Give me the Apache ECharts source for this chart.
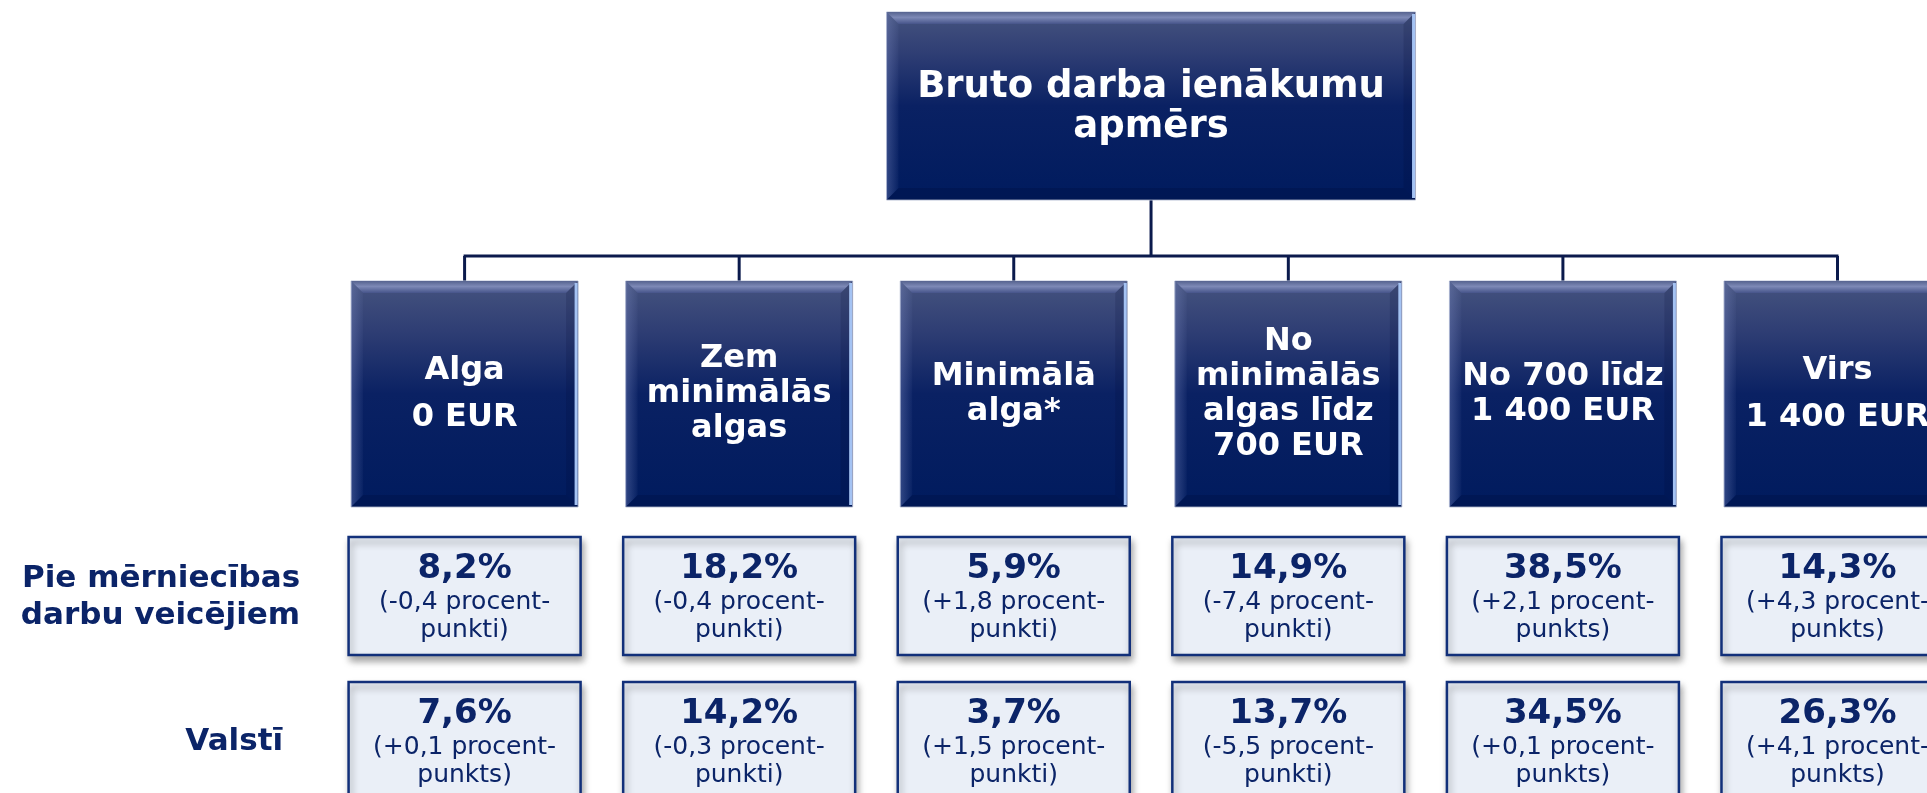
<!DOCTYPE html>
<html>
<head>
<meta charset="utf-8">
<title>Bruto darba ienākumu apmērs</title>
<script src="https://cdn.jsdelivr.net/npm/echarts@6/dist/echarts.min.js"></script>
<style>
  html, body { margin: 0; padding: 0; background: #fff; }
  #chart { width: 1927px; height: 793px; }
</style>
</head>
<body>
<div id="chart"></div>
<script>
// data
const title = 'Bruto darba ienākumu\napmērs'
const categories = [
  'Alga\n0 EUR',
  'Zem\nminimālās\nalgas',
  'Minimālā\nalga*',
  'No\nminimālās\nalgas līdz\n700 EUR',
  'No 700 līdz\n1 400 EUR',
  'Virs\n1 400 EUR'
]
const rowLabels = ['Pie mērniecības\ndarbu veicējiem', 'Valstī']
const surveyShare = [8.2, 18.2, 5.9, 14.9, 38.5, 14.3]
const surveyChange = [-0.4, -0.4, 1.8, -7.4, 2.1, 4.3]
const surveyUnit = ['punkti', 'punkti', 'punkti', 'punkti', 'punkts', 'punkts']
const countryShare = [7.6, 14.2, 3.7, 13.7, 34.5, 26.3]
const countryChange = [0.1, -0.3, 1.5, -5.5, 0.1, 4.1]
const countryUnit = ['punkts', 'punkti', 'punkti', 'punkti', 'punkts', 'punkts']

const NAVY = '#0b2468'
const FONT = '"DejaVu Sans", Verdana, sans-serif'
// vertical layout (y axis runs in pixels, top to bottom)
const TOP_BOX = [12, 200]
const BUS_Y = 256
const CAT_BOX = [281, 507]
const ROW_TOP = [537, 682]
const VAL_H = 118
const CAT_W = 227
const VAL_W = 232
// column index range visible on the page (one column = one category)
const X_MIN = -1.692
const X_MAX = 5.326

const fmt = v => v.toFixed(1).replace('.', ',')
const fmtChange = v => (v >= 0 ? '+' : '-') + fmt(Math.abs(v))

function darkBox(x, y, w, h) {
  const b = 12
  return [
    {
      type: 'rect',
      shape: { x: x, y: y, width: w, height: h },
      style: {
        fill: new echarts.graphic.LinearGradient(0, 0, 0, 1, [
          { offset: 0, color: '#46547f' },
          { offset: 0.22, color: '#2f3e74' },
          { offset: 0.5, color: '#0a2163' },
          { offset: 1, color: '#001b5e' }
        ]),
        stroke: '#b9c1d6',
        lineWidth: 1
      }
    },
    {
      type: 'polygon',
      shape: { points: [[x, y], [x + w, y], [x + w - b, y + b], [x + b, y + b]] },
      style: {
        fill: new echarts.graphic.LinearGradient(0, 0, 0, 1, [
          { offset: 0, color: '#56638f' },
          { offset: 0.45, color: '#7d89b6' },
          { offset: 1, color: '#46548a' }
        ])
      }
    },
    {
      type: 'polygon',
      shape: { points: [[x, y], [x + b, y + b], [x + b, y + h - b], [x, y + h]] },
      style: {
        fill: new echarts.graphic.LinearGradient(0, 0, 1, 0, [
          { offset: 0, color: 'rgba(120,135,190,0.4)' },
          { offset: 1, color: 'rgba(120,135,190,0.05)' }
        ])
      }
    },
    {
      type: 'polygon',
      shape: { points: [[x, y + h], [x + w, y + h], [x + w - b, y + h - b], [x + b, y + h - b]] },
      style: { fill: 'rgba(0,10,50,0.22)' }
    },
    {
      type: 'polygon',
      shape: { points: [[x + w, y], [x + w, y + h], [x + w - b, y + h - b], [x + w - b, y + b]] },
      style: { fill: 'rgba(0,10,50,0.15)' }
    },
    {
      type: 'line',
      shape: { x1: x + w - 2, y1: y + 2, x2: x + w - 2, y2: y + h - 2 },
      style: { stroke: '#a5c3f3', lineWidth: 3 }
    }
  ]
}

const chart = echarts.init(document.getElementById('chart'))

const valueData = []
surveyShare.forEach((v, i) => valueData.push([i, 0]))
countryShare.forEach((v, i) => valueData.push([i, 1]))
const valueText = [
  surveyShare.map((v, i) => [fmt(v) + '%', '(' + fmtChange(surveyChange[i]) + ' procent-', surveyUnit[i] + ')']),
  countryShare.map((v, i) => [fmt(v) + '%', '(' + fmtChange(countryChange[i]) + ' procent-', countryUnit[i] + ')'])
]

chart.setOption({
  animation: false,
  grid: { left: 0, right: 0, top: 0, bottom: 0 },
  xAxis: { type: 'value', min: X_MIN, max: X_MAX, show: false },
  yAxis: { type: 'value', min: 0, max: 793, inverse: true, show: false },
  series: [
    {
      // connectors
      type: 'custom',
      z: 1,
      data: [[0, BUS_Y]],
      renderItem: (params, api) => {
        const first = api.coord([0, BUS_Y])
        const last = api.coord([categories.length - 1, BUS_Y])
        const mid = api.coord([(categories.length - 1) / 2, 0])[0]
        const style = { stroke: '#0b1a4c', lineWidth: 3 }
        const children = [
          { type: 'line', shape: { x1: mid, y1: api.coord([0, TOP_BOX[1]])[1], x2: mid, y2: first[1] + 1 }, style },
          { type: 'line', shape: { x1: first[0] - 1, y1: first[1], x2: last[0] + 1, y2: first[1] }, style }
        ]
        categories.forEach((c, i) => {
          const p = api.coord([i, BUS_Y])
          children.push({ type: 'line', shape: { x1: p[0], y1: p[1], x2: p[0], y2: api.coord([i, CAT_BOX[0]])[1] }, style })
        })
        return { type: 'group', children }
      }
    },
    {
      // top box
      type: 'custom',
      z: 2,
      data: [[(categories.length - 1) / 2, TOP_BOX[0]]],
      renderItem: (params, api) => {
        const top = api.coord([api.value(0), TOP_BOX[0]])
        const y1 = api.coord([0, TOP_BOX[1]])[1]
        const w = 529
        const children = darkBox(top[0] - w / 2, top[1], w, y1 - top[1])
        children.push({
          type: 'text',
          style: {
            x: top[0], y: (top[1] + y1) / 2 + 1, text: title,
            fill: '#fff', fontFamily: FONT, fontWeight: 'bold', fontSize: 37, lineHeight: 40,
            align: 'center', verticalAlign: 'middle'
          }
        })
        return { type: 'group', children }
      }
    },
    {
      // category boxes
      type: 'custom',
      z: 2,
      data: categories.map((c, i) => [i, CAT_BOX[0]]),
      renderItem: (params, api) => {
        const i = params.dataIndex
        const top = api.coord([i, CAT_BOX[0]])
        const bottom = api.coord([i, CAT_BOX[1]])
        const children = darkBox(top[0] - CAT_W / 2, top[1], CAT_W, bottom[1] - top[1])
        const twoPart = i === 0 || i === categories.length - 1
        children.push({
          type: 'text',
          style: {
            x: top[0], y: (top[1] + bottom[1]) / 2, text: categories[i],
            fill: '#fff', fontFamily: FONT, fontWeight: 'bold', fontSize: 32, lineHeight: twoPart ? 47 : 35,
            align: 'center', verticalAlign: 'middle'
          }
        })
        return { type: 'group', children }
      }
    },
    {
      // value boxes
      type: 'custom',
      z: 2,
      data: valueData,
      renderItem: (params, api) => {
        const col = api.value(0)
        const row = api.value(1)
        const p = api.coord([col, ROW_TOP[row]])
        const x = p[0] - VAL_W / 2
        const y = p[1]
        const t = valueText[row][col]
        return {
          type: 'group',
          children: [
            {
              type: 'rect',
              shape: { x: x, y: y, width: VAL_W, height: VAL_H },
              style: {
                fill: '#eaeff7', stroke: '#12307a', lineWidth: 2.5,
                shadowBlur: 7, shadowColor: 'rgba(0,0,0,0.35)', shadowOffsetX: 2, shadowOffsetY: 5
              }
            },
            {
              type: 'text',
              style: {
                x: p[0], y: y + 32, text: t[0], fill: NAVY, fontFamily: FONT, fontWeight: 'bold',
                fontSize: 34, align: 'center', verticalAlign: 'middle'
              }
            },
            {
              type: 'text',
              style: {
                x: p[0], y: y + 65, text: t[1], fill: NAVY, fontFamily: FONT,
                fontSize: 25, align: 'center', verticalAlign: 'middle'
              }
            },
            {
              type: 'text',
              style: {
                x: p[0], y: y + 93, text: t[2], fill: NAVY, fontFamily: FONT,
                fontSize: 25, align: 'center', verticalAlign: 'middle'
              }
            }
          ]
        }
      }
    },
    {
      // row labels
      type: 'custom',
      z: 2,
      data: rowLabels.map((r, i) => [0, ROW_TOP[i]]),
      renderItem: (params, api) => {
        const i = params.dataIndex
        const p = api.coord([0, ROW_TOP[i] + VAL_H / 2])
        return {
          type: 'text',
          style: {
            x: p[0] - CAT_W / 2 - (i === 0 ? 51 : 68), y: p[1] + 1, text: rowLabels[i],
            fill: NAVY, fontFamily: FONT, fontWeight: 'bold', fontSize: 31, lineHeight: 37,
            align: 'right', verticalAlign: 'middle'
          }
        }
      }
    }
  ]
})
</script>
</body>
</html>
